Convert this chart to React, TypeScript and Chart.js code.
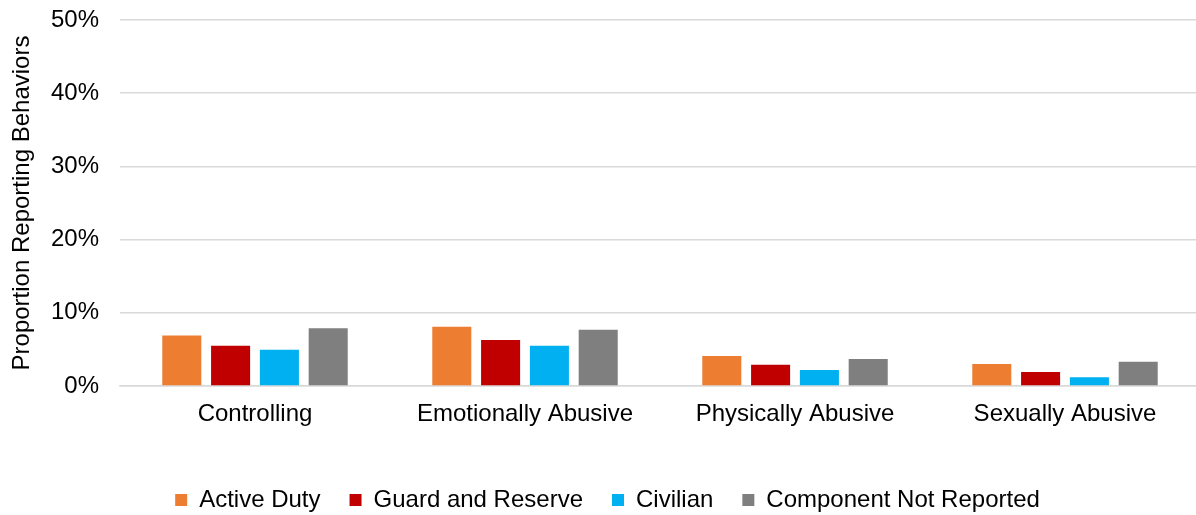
import React, { useEffect, useRef } from "react";
import { Chart, registerables } from "chart.js";

Chart.register(...registerables);

const categories = ["Controlling", "Emotionally Abusive", "Physically Abusive", "Sexually Abusive"];
const seriesNames = ["Active Duty", "Guard and Reserve", "Civilian", "Component Not Reported"];
const activeDuty = [6.9, 8.1, 4.1, 3.0];
const guardReserve = [5.5, 6.3, 2.9, 1.9];
const civilian = [4.95, 5.5, 2.2, 1.2];
const notReported = [7.9, 7.7, 3.7, 3.3];
const yTicks = [0, 10, 20, 30, 40, 50];
const colors = ["#ED7D31", "#C00000", "#00B0F0", "#7F7F7F"];

const FONT = "Arial, 'Liberation Sans', sans-serif";

export default function App() {
  const ref = useRef<HTMLCanvasElement | null>(null);
  useEffect(() => {
    if (!ref.current) return;
    const values = [activeDuty, guardReserve, civilian, notReported];
    const chart = new Chart(ref.current, {
      type: "bar",
      data: {
        labels: categories,
        datasets: seriesNames.map((name, i) => ({
          label: name,
          data: values[i],
          backgroundColor: colors[i],
          borderWidth: 0,
          barPercentage: 0.8,
          categoryPercentage: 0.723,
        })),
      },
      options: {
        animation: false,
        responsive: true,
        maintainAspectRatio: false,
        layout: { padding: { top: 20, left: 15, right: 0, bottom: 0 } },
        plugins: {
          tooltip: { enabled: false },
          legend: {
            position: "bottom",
            labels: {
              boxWidth: 12,
              boxHeight: 12,
              padding: 29,
              color: "#000000",
              font: { family: FONT, size: 24 },
            },
          },
        },
        scales: {
          x: {
            grid: { display: false, drawTicks: false },
            border: { display: true, color: "#D9D9D9", width: 1.5 },
            ticks: {
              color: "#000000",
              font: { family: FONT, size: 24 },
              padding: 14,
              maxRotation: 0,
            },
            afterFit: (s: any) => {
              s.height = 73;
            },
          },
          y: {
            min: 0,
            max: 50,
            afterBuildTicks: (s: any) => {
              s.ticks = yTicks.map((v) => ({ value: v }));
            },
            grid: { color: "#D9D9D9", lineWidth: 1.5, drawTicks: false },
            border: { display: false },
            ticks: {
              color: "#000000",
              font: { family: FONT, size: 24 },
              padding: 21,
              callback: (v: any) => v + "%",
            },
            title: {
              display: true,
              text: "Proportion Reporting Behaviors",
              color: "#000000",
              font: { family: FONT, size: 24 },
              padding: { top: -7, bottom: 0 },
            },
            afterFit: (s: any) => {
              s.width = 105;
              s.paddingTop = 0;
              s.paddingBottom = 0;
            },
          },
        },
      },
    });
    return () => chart.destroy();
  }, []);
  return (
    <div style={{ position: "fixed", left: 0, top: 0, width: 1200, height: 522, background: "#fff" }}>
      <canvas ref={ref} />
    </div>
  );
}
